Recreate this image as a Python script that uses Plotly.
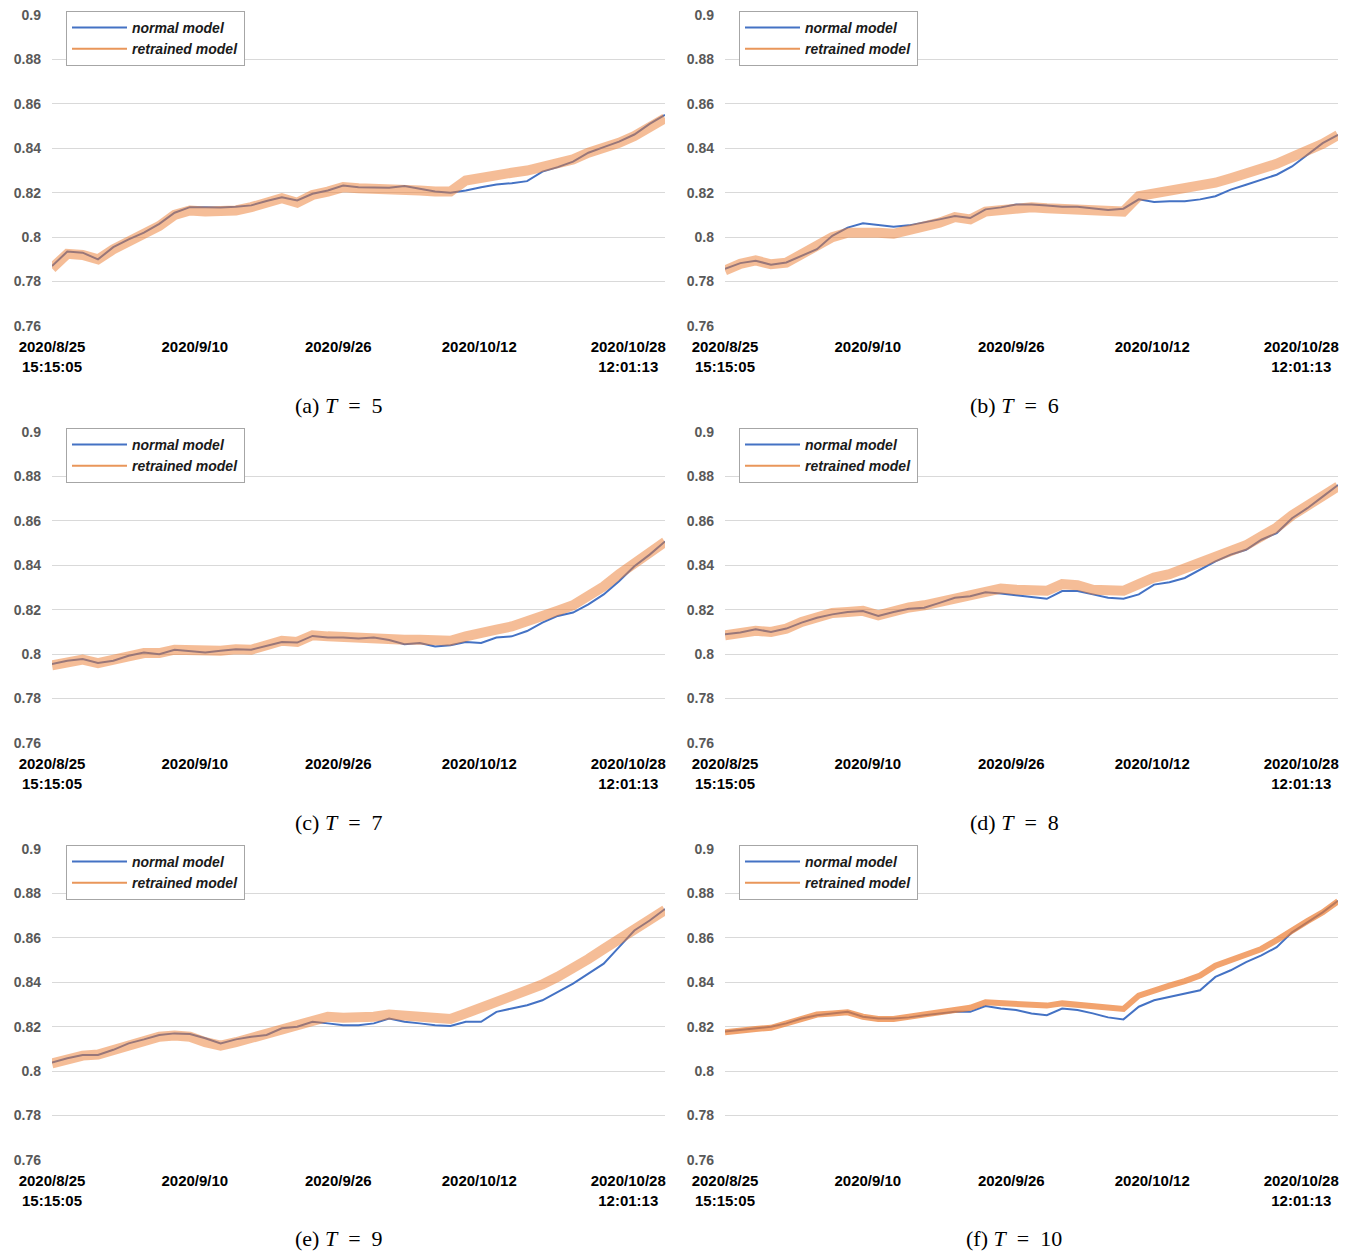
import plotly.graph_objects as go
from plotly.subplots import make_subplots

# x positions: percent of the time span (0 = 2020/8/25 15:15:05, 100 = 2020/10/28 12:01:13)
x_pos = [i * 2.5 for i in range(41)]

tick_vals = [0, 23.3, 46.7, 69.7, 94.0]
tick_text = ["2020/8/25<br>15:15:05", "2020/9/10", "2020/9/26", "2020/10/12", "2020/10/28<br>12:01:13"]
y_ticks = [0.76, 0.78, 0.80, 0.82, 0.84, 0.86, 0.88, 0.90]
y_tick_text = ["0.76", "0.78", "0.8", "0.82", "0.84", "0.86", "0.88", "0.9"]

captions = ["(a) <i>T</i>&nbsp;&nbsp;=&nbsp;&nbsp;5", "(b) <i>T</i>&nbsp;&nbsp;=&nbsp;&nbsp;6",
            "(c) <i>T</i>&nbsp;&nbsp;=&nbsp;&nbsp;7", "(d) <i>T</i>&nbsp;&nbsp;=&nbsp;&nbsp;8",
            "(e) <i>T</i>&nbsp;&nbsp;=&nbsp;&nbsp;9", "(f) <i>T</i>&nbsp;&nbsp;=&nbsp;&nbsp;10"]

normal_T5 = [0.787, 0.7935, 0.793, 0.790, 0.7955, 0.799, 0.802, 0.806, 0.811, 0.8135, 0.8135,
             0.8133, 0.8137, 0.8143, 0.8163, 0.818, 0.8165, 0.8195, 0.821, 0.8232, 0.8225,
             0.8225, 0.8222, 0.823, 0.8218, 0.8205, 0.820, 0.821, 0.8225, 0.8237, 0.8243,
             0.8252, 0.8295, 0.8315, 0.834, 0.838, 0.8405, 0.843, 0.8462, 0.851, 0.855]
retrained_T5 = [0.786, 0.7925, 0.792, 0.790, 0.7945, 0.798, 0.801, 0.805, 0.810, 0.812, 0.8115,
                0.8115, 0.812, 0.8135, 0.8155, 0.8175, 0.8155, 0.819, 0.8205, 0.8225, 0.822,
                0.822, 0.8215, 0.822, 0.821, 0.8205, 0.8205, 0.8255, 0.827, 0.828, 0.829,
                0.830, 0.8315, 0.833, 0.835, 0.838, 0.840, 0.8425, 0.8455, 0.850, 0.8535]

normal_T6 = [0.7857, 0.7883, 0.7894, 0.7876, 0.7886, 0.7916, 0.7946, 0.8006, 0.8043, 0.8062, 0.8053,
             0.8047, 0.8053, 0.8065, 0.808, 0.8095, 0.8086, 0.8125, 0.8134, 0.8147, 0.8147,
             0.8143, 0.8137, 0.8137, 0.8128, 0.8122, 0.8128, 0.817, 0.8158, 0.8162, 0.8162,
             0.817, 0.8184, 0.8214, 0.8236, 0.8259, 0.8281, 0.8318, 0.837, 0.8423, 0.846]
retrained_T6 = [0.785, 0.788, 0.7895, 0.7878, 0.7885, 0.792, 0.7955, 0.800, 0.802, 0.8025, 0.802,
                0.8015, 0.803, 0.8045, 0.8065, 0.809, 0.808, 0.8115, 0.8125, 0.8135, 0.8135,
                0.813, 0.8125, 0.8125, 0.812, 0.811, 0.8115, 0.8185, 0.8195, 0.8205, 0.8215,
                0.8225, 0.8245, 0.8265, 0.8285, 0.831, 0.833, 0.836, 0.8385, 0.842, 0.846]

normal_T7 = [0.7955, 0.797, 0.7978, 0.796, 0.797, 0.7993, 0.8007, 0.800, 0.802, 0.8015, 0.8007,
             0.8015, 0.8022, 0.802, 0.8037, 0.8055, 0.8052, 0.8082, 0.8075, 0.8075, 0.807,
             0.8075, 0.8064, 0.8045, 0.805, 0.8034, 0.804, 0.8055, 0.805, 0.8075, 0.808,
             0.8104, 0.8142, 0.8172, 0.8187, 0.8224, 0.8269, 0.8328, 0.8396, 0.8448, 0.8507]
retrained_T7 = [0.795, 0.7965, 0.7975, 0.796, 0.797, 0.799, 0.8005, 0.8005, 0.802, 0.8015, 0.801,
                0.8015, 0.8022, 0.802, 0.804, 0.806, 0.8055, 0.8085, 0.808, 0.8075, 0.8072,
                0.8075, 0.807, 0.8065, 0.8065, 0.8065, 0.806, 0.808, 0.809, 0.811, 0.8125,
                0.8145, 0.817, 0.8195, 0.822, 0.826, 0.8305, 0.836, 0.841, 0.846, 0.8505]

normal_T8 = [0.809, 0.8097, 0.8112, 0.810, 0.8115, 0.8142, 0.8164, 0.8179, 0.819, 0.8194, 0.8172,
             0.819, 0.8204, 0.8209, 0.8231, 0.8254, 0.8261, 0.8279, 0.8273, 0.8264, 0.8258,
             0.8249, 0.8284, 0.8284, 0.8269, 0.8254, 0.8249, 0.8269, 0.8313, 0.8324, 0.8343,
             0.8381, 0.8418, 0.8448, 0.847, 0.8515, 0.8545, 0.8612, 0.8657, 0.8709, 0.8761]
retrained_T8 = [0.8085, 0.8095, 0.8105, 0.810, 0.8115, 0.8145, 0.8165, 0.8185, 0.819, 0.8195, 0.8175,
                0.8195, 0.821, 0.822, 0.8235, 0.826, 0.8275, 0.829, 0.8295, 0.829, 0.8285,
                0.8285, 0.8315, 0.831, 0.829, 0.8285, 0.8285, 0.8315, 0.8345, 0.836, 0.8385,
                0.841, 0.844, 0.8465, 0.849, 0.853, 0.857, 0.8625, 0.8665, 0.871, 0.8755]

normal_T9 = [0.8039, 0.8058, 0.8073, 0.8073, 0.8096, 0.8125, 0.8143, 0.8163, 0.817, 0.8167, 0.8148,
             0.8125, 0.8143, 0.8155, 0.8163, 0.8193, 0.820, 0.8222, 0.8215, 0.8207, 0.8207,
             0.8215, 0.8237, 0.8222, 0.8215, 0.8207, 0.8203, 0.8222, 0.8222, 0.8267, 0.8282,
             0.8297, 0.8319, 0.8357, 0.8394, 0.8439, 0.8484, 0.8558, 0.8633, 0.8678, 0.873]
retrained_T9 = [0.8035, 0.8055, 0.807, 0.8075, 0.8095, 0.8125, 0.8135, 0.8155, 0.816, 0.8155, 0.813,
                0.8115, 0.813, 0.815, 0.8165, 0.819, 0.821, 0.8235, 0.8245, 0.824, 0.824,
                0.8245, 0.8255, 0.825, 0.8245, 0.824, 0.8235, 0.826, 0.8285, 0.831, 0.8335,
                0.836, 0.839, 0.8425, 0.846, 0.8505, 0.855, 0.8595, 0.8645, 0.869, 0.8725]

normal_T10 = [0.8178, 0.8185, 0.8193, 0.820, 0.8215, 0.8237, 0.8252, 0.826, 0.8267, 0.8245, 0.8237,
              0.8237, 0.8242, 0.8252, 0.826, 0.8267, 0.8267, 0.8293, 0.8282, 0.8275, 0.826,
              0.8252, 0.8282, 0.8275, 0.826, 0.8242, 0.8233, 0.829, 0.8319, 0.8334, 0.8349,
              0.8364, 0.8424, 0.8454, 0.8491, 0.8521, 0.8558, 0.8625, 0.867, 0.8715, 0.8767]
retrained_T10 = [0.8175, 0.8185, 0.819, 0.8195, 0.8215, 0.824, 0.8255, 0.826, 0.8265, 0.8245, 0.8235,
                 0.8235, 0.8245, 0.8255, 0.8265, 0.827, 0.8285, 0.831, 0.8305, 0.8305, 0.8295,
                 0.8295, 0.8305, 0.830, 0.829, 0.8285, 0.828, 0.834, 0.8365, 0.8385, 0.8405,
                 0.843, 0.8475, 0.850, 0.8525, 0.855, 0.859, 0.8635, 0.8675, 0.8715, 0.8765]

normal_series = [normal_T5, normal_T6, normal_T7, normal_T8, normal_T9, normal_T10]
retrained_series = [retrained_T5, retrained_T6, retrained_T7, retrained_T8, retrained_T9, retrained_T10]

BLUE = "rgb(68,114,196)"
ORANGE = "rgb(237,125,49)"
OFF = 8  # page body margin
W, H = 1355 - OFF, 1251 - OFF


def px(v):
    return (v - OFF) / W


def py(v):
    return 1 - (v - OFF) / H


x_domains = [[px(52), px(665)], [px(725), px(1338)]]
y_domains = [[py(326), py(15)], [py(743), py(432)], [py(1160), py(849)]]
legend_tops = [11, 428, 845]
legend_lefts = [66, 739]
caption_y = [405, 822, 1238]
caption_x = [339, 1014]

fig = make_subplots(rows=3, cols=2)

tick_font = dict(family="Liberation Sans", size=15, color="black", weight="bold")
ytick_font = dict(family="Liberation Sans", size=14, color="#595959", weight="bold")
legend_font = dict(family="Liberation Sans", size=14, color="#1a1a1a", weight="bold", style="italic")

for k in range(6):
    r, c = k // 2 + 1, k % 2 + 1
    leg = "legend" if k == 0 else f"legend{k + 1}"
    orange_width = 6 if k == 5 else 10
    orange_op = 0.7 if k == 5 else 0.5
    fig.add_trace(go.Scatter(x=x_pos, y=normal_series[k], mode="lines",
                             line=dict(color=BLUE, width=2), showlegend=False,
                             hoverinfo="skip"), row=r, col=c)
    fig.add_trace(go.Scatter(x=x_pos, y=retrained_series[k], mode="lines",
                             line=dict(color=ORANGE, width=orange_width), opacity=orange_op,
                             showlegend=False, hoverinfo="skip"), row=r, col=c)
    # legend entries
    fig.add_trace(go.Scatter(x=[None], y=[None], mode="lines", name="normal model",
                             line=dict(color=BLUE, width=2), legend=leg), row=r, col=c)
    fig.add_trace(go.Scatter(x=[None], y=[None], mode="lines", name="retrained model",
                             line=dict(color="rgb(233,150,90)", width=2), legend=leg), row=r, col=c)

    xa = "xaxis" if k == 0 else f"xaxis{k + 1}"
    ya = "yaxis" if k == 0 else f"yaxis{k + 1}"
    fig.layout[xa].update(domain=x_domains[c - 1], range=[0, 100], showgrid=False,
                          zeroline=False, showline=False, tickvals=tick_vals,
                          ticktext=tick_text, tickfont=tick_font, ticks="",
                          ticklabelstandoff=10, automargin=False, ticklabeloverflow="allow")
    fig.layout[ya].update(domain=y_domains[r - 1], range=[0.76, 0.9], tickvals=y_ticks,
                          ticktext=y_tick_text, tickfont=ytick_font, showgrid=True,
                          gridcolor="#d9d9d9", gridwidth=1, zeroline=False,
                          showline=False, ticks="", ticklabelstandoff=10, automargin=False,
                          ticklabeloverflow="allow")
    fig.layout[leg] = dict(x=px(legend_lefts[c - 1]), y=py(legend_tops[r - 1]),
                           xanchor="left", yanchor="top", bgcolor="white",
                           bordercolor="#a6a6a6", borderwidth=1, font=legend_font,
                           itemwidth=55, tracegroupgap=0)
    fig.add_annotation(text=captions[k], xref="paper", yref="paper",
                       x=px(caption_x[c - 1]), y=py(caption_y[r - 1]),
                       xanchor="center", yanchor="middle", showarrow=False,
                       font=dict(family="Liberation Serif", size=22, color="black"))

fig.update_layout(width=W, height=H, margin=dict(l=0, r=0, t=0, b=0),
                  plot_bgcolor="white", paper_bgcolor="white")

fig.write_html("out.html")
